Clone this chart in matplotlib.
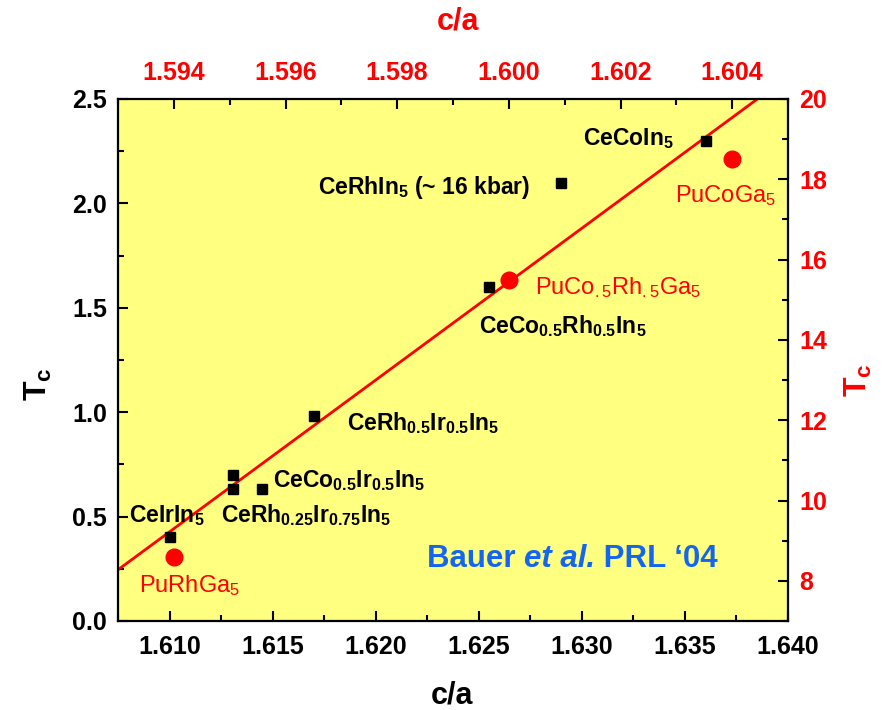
import matplotlib
matplotlib.use("Agg")
import matplotlib.pyplot as plt
from matplotlib.ticker import MultipleLocator
from matplotlib.transforms import offset_copy

plt.rcParams["font.family"] = ["Liberation Sans", "DejaVu Sans"]
plt.rcParams["mathtext.fontset"] = "custom"
plt.rcParams["mathtext.rm"] = "Liberation Sans"
plt.rcParams["mathtext.bf"] = "Liberation Sans:bold"
plt.rcParams["mathtext.it"] = "Liberation Sans:italic"

# Ce-115 compounds: c/a ratio (bottom axis) and Tc in K (left axis)
ce_ca = [1.6100, 1.6131, 1.6131, 1.6145, 1.6170, 1.6255, 1.6290, 1.6360]
ce_tc = [0.40, 0.63, 0.70, 0.63, 0.98, 1.60, 2.10, 2.30]

# Pu-115 compounds: c/a ratio (top axis) and Tc in K (right axis)
pu_ca = [1.5940, 1.6000, 1.6040]
pu_tc = [8.6, 15.5, 18.5]

# linear fit through the Ce series
fit_slope = 72.7
fit_intercept = -116.62

# compound labels and their anchor points
ce_labels = [r"$\mathbf{CeCoIn_5}$",
             r"$\mathbf{CeRhIn_5}$ (~ 16 kbar)",
             r"$\mathbf{CeCo_{0.5}Rh_{0.5}In_5}$",
             r"$\mathbf{CeRh_{0.5}Ir_{0.5}In_5}$",
             r"$\mathbf{CeCo_{0.5}Ir_{0.5}In_5}$",
             r"$\mathbf{CeRh_{0.25}Ir_{0.75}In_5}$",
             r"$\mathbf{CeIrIn_5}$"]
ce_label_x = [1.63006, 1.61722, 1.62502, 1.61862, 1.61504, 1.61252, 1.60801]
ce_label_y = [2.28, 2.045, 1.379, 0.915, 0.642, 0.474, 0.474]

pu_labels = [r"$\mathrm{PuRhGa_5}$",
             r"$\mathrm{PuCo_{.5}Rh_{.5}Ga_5}$",
             r"$\mathrm{PuCoGa_5}$"]
pu_label_x = [1.59338, 1.60046, 1.60297]
pu_label_y = [7.727, 15.13, 17.42]

bottom_xlim = (1.6075, 1.640)
left_ylim = (0.0, 2.5)
top_xlim = (1.593, 1.605)
right_ylim = (7.0, 20.0)

RED = "#FF0000"
BLUE = "#1466F0"
YELLOW = "#FFFF80"

W, H = 888, 710
fig = plt.figure(figsize=(W / 100, H / 100), dpi=100)
pos = [118 / W, 1 - 621 / H, (788 - 118) / W, (621 - 99) / H]

ax = fig.add_axes(pos)
ax.set_facecolor(YELLOW)
ax.set_xlim(*bottom_xlim)
ax.set_ylim(*left_ylim)

xs = list(bottom_xlim)
ax.plot(xs, [fit_slope * x + fit_intercept for x in xs], color=RED, lw=2.0, zorder=2)
ax.plot(ce_ca, ce_tc, ls="none", marker="s", ms=7.5, color="black", zorder=3)

for s, x, y in zip(ce_labels, ce_label_x, ce_label_y):
    ax.text(x, y, s, fontsize=16.5, fontweight="bold", color="black",
            ha="left", va="baseline")

ax.xaxis.set_major_locator(MultipleLocator(0.005))
ax.xaxis.set_minor_locator(MultipleLocator(0.0025))
ax.yaxis.set_major_locator(MultipleLocator(0.5))
ax.yaxis.set_minor_locator(MultipleLocator(0.25))
ax.xaxis.set_major_formatter(lambda v, p: f"{v:.3f}")
ax.yaxis.set_major_formatter(lambda v, p: f"{v:.1f}")
ax.tick_params(which="both", direction="in", width=1.5, colors="black",
               labelsize=18, top=False, right=False)
ax.tick_params(which="major", length=7)
ax.tick_params(which="minor", length=4.5)
ax.tick_params(axis="x", pad=10)
ax.tick_params(axis="y", pad=8)
for lab in ax.get_xticklabels() + ax.get_yticklabels():
    lab.set_fontweight("bold")
for sp in ax.spines.values():
    sp.set_linewidth(1.6)

# second coordinate system for the Pu compounds: top and right axes
axp = fig.add_axes(pos, frameon=False)
axp.set_xlim(*top_xlim)
axp.set_ylim(*right_ylim)
axp.xaxis.tick_top()
axp.yaxis.tick_right()
axp.plot(pu_ca, pu_tc, ls="none", marker="o", ms=12, color=RED, zorder=4)
for s, x, y in zip(pu_labels, pu_label_x, pu_label_y):
    axp.text(x, y, s, fontsize=17, color=RED, ha="left", va="baseline")

axp.xaxis.set_major_locator(MultipleLocator(0.002))
axp.xaxis.set_minor_locator(MultipleLocator(0.001))
axp.yaxis.set_major_locator(MultipleLocator(2))
axp.yaxis.set_minor_locator(MultipleLocator(1))
axp.xaxis.set_major_formatter(lambda v, p: f"{v:.3f}" if v < 1.6045 else "")
axp.yaxis.set_major_formatter(lambda v, p: f"{v:.0f}")
axp.tick_params(which="both", direction="in", width=1.5, color="black",
                labelcolor=RED, labelsize=18)
axp.tick_params(which="major", length=7)
axp.tick_params(which="minor", length=4.5)
axp.tick_params(axis="x", pad=10)
axp.tick_params(axis="y", pad=8)
for lab in axp.get_xticklabels() + axp.get_yticklabels():
    lab.set_fontweight("bold")

# axis titles
fig.text(452 / W, 1 - 703 / H, "c/a", fontsize=22, fontweight="bold",
         ha="center", va="baseline")
fig.text(458 / W, 1 - 22 / H, "c/a", fontsize=22, fontweight="bold",
         color=RED, ha="center", va="center")
fig.text(38 / W, 1 - 384 / H, r"$\mathbf{T_c}$", fontsize=23, rotation=90,
         ha="center", va="center")
fig.text(858 / W, 1 - 380 / H, r"$\mathbf{T_c}$", fontsize=23, rotation=90,
         color=RED, ha="center", va="center")

# reference note, with the italic "et al." set in between
renderer = fig.canvas.get_renderer()
parts = [("Bauer ", "normal"), ("et al.", "italic"), (" PRL \u201804", "normal")]
tr = ax.transData
for txt, style in parts:
    t = ax.text(1.6225, 0.259, txt, transform=tr, fontsize=22.5, fontweight="bold",
                fontstyle=style, color=BLUE, ha="left", va="baseline")
    ext = t.get_window_extent(renderer)
    tr = offset_copy(tr, fig=fig, x=ext.width, y=0, units="dots")

fig.savefig("out.png", dpi=100)
